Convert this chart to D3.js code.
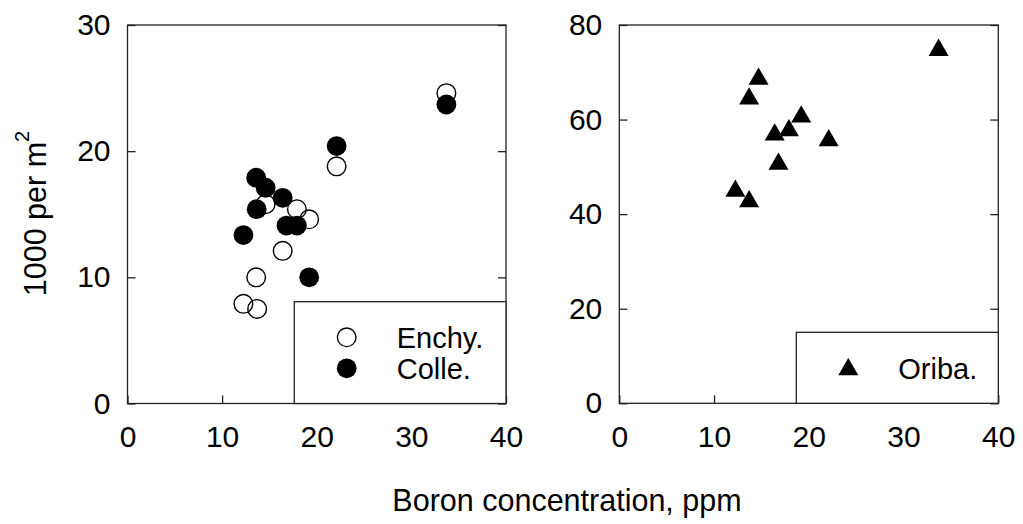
<!DOCTYPE html>
<html>
<head>
<meta charset="utf-8">
<script src="https://cdn.jsdelivr.net/npm/d3@7"></script>
<style>
  html, body { margin: 0; padding: 0; background: #fff; }
  svg { display: block; }
  text { font-family: "Liberation Sans", Arial, Helvetica, sans-serif; fill: #000; }
</style>
</head>
<body>
<svg id="chart" width="1023" height="524"></svg>
<script>
// ---- data ----
const xTicks = [0, 10, 20, 30, 40];
const yTicksLeft = [0, 10, 20, 30];
const yTicksRight = [0, 20, 40, 60, 80];

const enchyX = [33.7, 22.1, 14.6, 17.9, 19.2, 16.4, 13.6, 12.25, 13.7];
const enchyY = [24.6, 18.8, 15.8, 15.4, 14.6, 12.1, 10.0, 7.9, 7.5];

const colleX = [33.7, 22.1, 13.6, 14.6, 16.4, 13.65, 16.8, 17.9, 12.25, 19.2];
const colleY = [23.7, 20.4, 17.9, 17.1, 16.3, 15.4, 14.1, 14.1, 13.35, 10.0];

const oribaX = [33.7, 14.7, 13.7, 19.2, 17.9, 16.4, 22.1, 16.8, 12.25, 13.7];
const oribaY = [75.3, 69.2, 65.0, 61.2, 58.3, 57.4, 56.2, 51.2, 45.5, 43.3];

const xTitle = "Boron concentration, ppm";
const yTitleMain = "1000 per m";
const yTitleSup = "2";

// ---- layout ----
const svg = d3.select("#chart");
const FS = 30;
const LEG_FS = 29;
const TITLE_FS = 30.5;
const frameColor = "#222";

function panel(cfg) {
  const x = d3.scaleLinear().domain([0, 40]).range([cfg.left, cfg.right]);
  const y = d3.scaleLinear().domain(cfg.yDomain).range([cfg.bottom, cfg.top]);
  const g = svg.append("g");

  const ax = g.append("g").attr("transform", `translate(0,${cfg.bottom})`)
    .call(d3.axisBottom(x).tickValues(xTicks).tickSizeInner(-8).tickSizeOuter(0).tickPadding(22).tickFormat(d3.format("d")));
  const ay = g.append("g").attr("transform", `translate(${cfg.left},0)`)
    .call(d3.axisLeft(y).tickValues(cfg.yTicks).tickSizeInner(-8).tickSizeOuter(0).tickPadding(17).tickFormat(d3.format("d")));
  const ar = g.append("g").attr("transform", `translate(${cfg.right},0)`)
    .call(d3.axisRight(y).tickValues(cfg.yTicks).tickSizeInner(-8).tickSizeOuter(0).tickFormat(""));
  [ax, ay, ar].forEach(a => {
    a.select(".domain").remove();
    a.selectAll("line").attr("stroke", frameColor).attr("stroke-width", 1.3);
    a.selectAll("text").style("font-size", FS + "px").attr("fill", "#000");
  });

  g.append("rect")
    .attr("x", cfg.left).attr("y", cfg.top)
    .attr("width", cfg.right - cfg.left).attr("height", cfg.bottom - cfg.top)
    .attr("fill", "none").attr("stroke", frameColor).attr("stroke-width", 1.3);

  return { g, x, y };
}

const L = panel({ left: 127.5, right: 506, top: 25, bottom: 403.5, yDomain: [0, 30], yTicks: yTicksLeft });
const R = panel({ left: 619.3, right: 998.3, top: 25, bottom: 403.3, yDomain: [0, 80], yTicks: yTicksRight });

const RAD = 9.3;
function triPath(cx, cy, w) {
  const h = w * Math.sqrt(3) / 2;
  return `M${cx},${cy - h / 2}L${cx + w / 2},${cy + h / 2}L${cx - w / 2},${cy + h / 2}Z`;
}

// Enchy. (open circles)
L.g.append("g").selectAll("circle").data(d3.range(enchyX.length)).join("circle")
  .attr("cx", i => L.x(enchyX[i])).attr("cy", i => L.y(enchyY[i])).attr("r", RAD)
  .attr("fill", "none").attr("stroke", "#000").attr("stroke-width", 1.4);

// Colle. (filled circles)
L.g.append("g").selectAll("circle").data(d3.range(colleX.length)).join("circle")
  .attr("cx", i => L.x(colleX[i])).attr("cy", i => L.y(colleY[i])).attr("r", RAD + 0.6)
  .attr("fill", "#000");

// Oriba. (filled triangles)
R.g.append("g").selectAll("path").data(d3.range(oribaX.length)).join("path")
  .attr("d", i => triPath(R.x(oribaX[i]), R.y(oribaY[i]), 20))
  .attr("fill", "#000");

// legends
const lg = L.g.append("g");
lg.append("rect").attr("x", 294.3).attr("y", 301.7).attr("width", 506 - 294.3).attr("height", 403.5 - 301.7)
  .attr("fill", "#fff").attr("stroke", frameColor).attr("stroke-width", 1.3);
lg.append("circle").attr("cx", 346.7).attr("cy", 337.3).attr("r", RAD)
  .attr("fill", "none").attr("stroke", "#000").attr("stroke-width", 1.4);
lg.append("text").attr("x", 396.7).attr("y", 348.3).style("font-size", LEG_FS + "px").text("Enchy.");
lg.append("circle").attr("cx", 346.7).attr("cy", 368.3).attr("r", RAD + 0.6).attr("fill", "#000");
lg.append("text").attr("x", 396.7).attr("y", 378.6).style("font-size", LEG_FS + "px").text("Colle.");

const rg = R.g.append("g");
rg.append("rect").attr("x", 796.3).attr("y", 332.3).attr("width", 998.3 - 796.3).attr("height", 403.3 - 332.3)
  .attr("fill", "#fff").attr("stroke", frameColor).attr("stroke-width", 1.3);
rg.append("path").attr("d", triPath(848.3, 366.7, 20)).attr("fill", "#000");
rg.append("text").attr("x", 898.3).attr("y", 378.6).style("font-size", LEG_FS + "px").text("Oriba.");

// axis titles
svg.append("text").attr("x", 567).attr("y", 511).attr("text-anchor", "middle")
  .style("font-size", TITLE_FS + "px").text(xTitle);

const yt = svg.append("text").attr("transform", "translate(46,213.5) rotate(-90)")
  .attr("text-anchor", "middle").style("font-size", TITLE_FS + "px");
yt.append("tspan").text(yTitleMain);
yt.append("tspan").attr("dy", -17).style("font-size", "20px").text(yTitleSup);
</script>
</body>
</html>
